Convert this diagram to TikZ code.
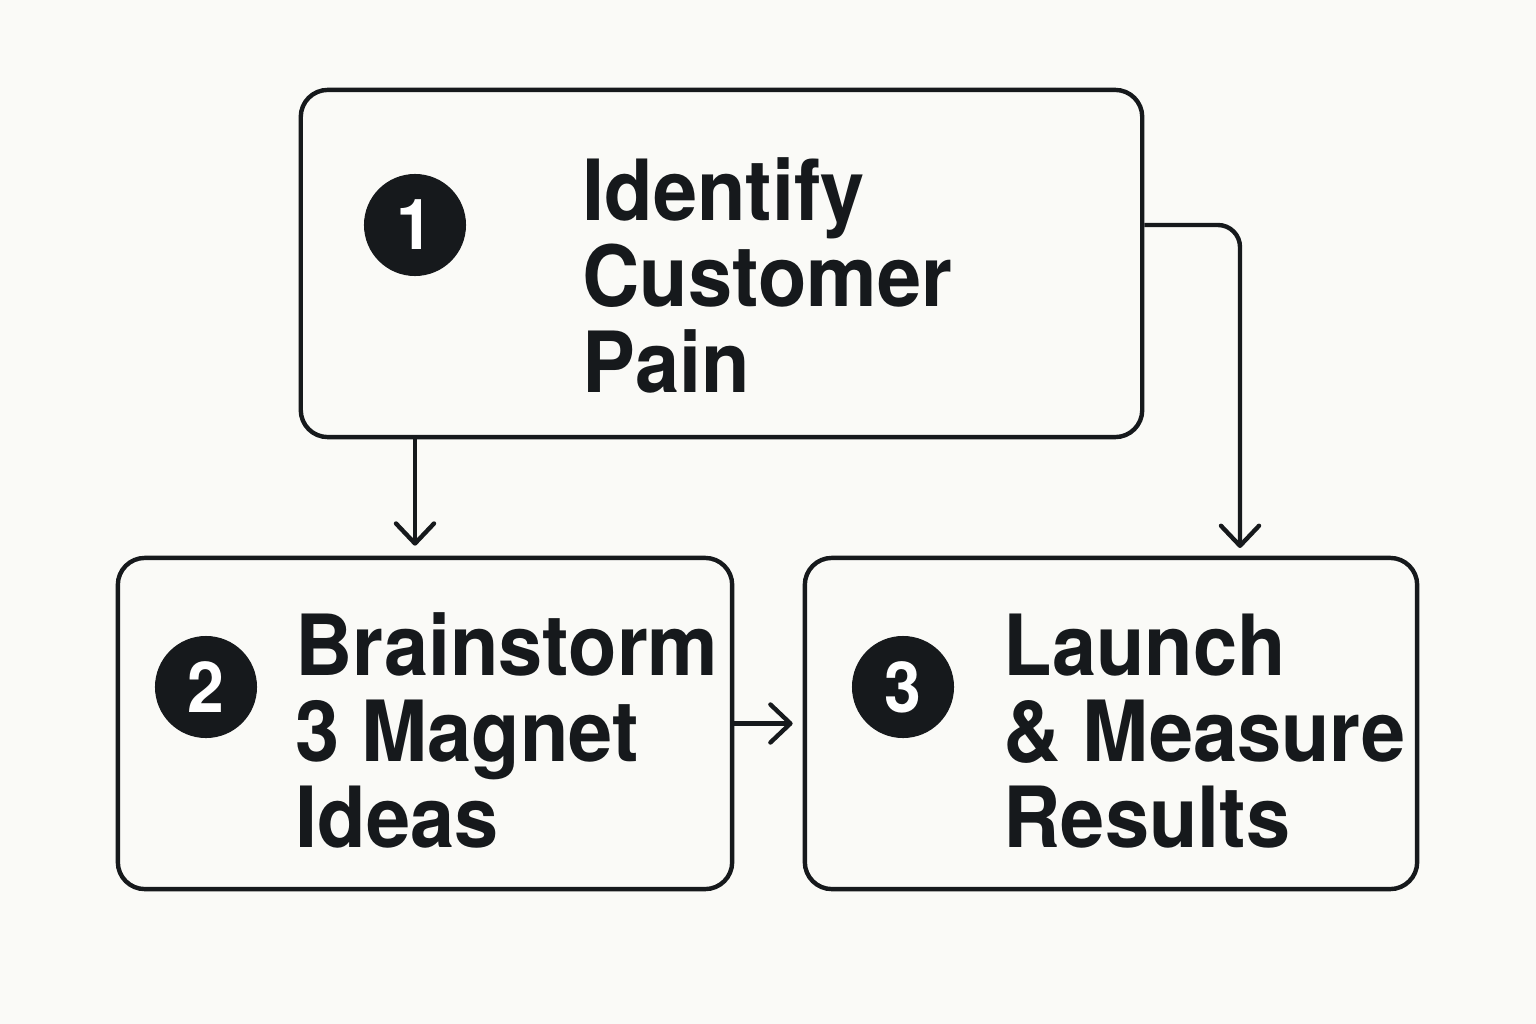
\documentclass[tikz,border=0pt]{standalone}
\usepackage{fontspec}
\setmainfont{TeX Gyre Heros}[FakeStretch=0.94]
\usetikzlibrary{arrows.meta}
\definecolor{ink}{HTML}{16191C}
\definecolor{paper}{HTML}{FAFAF7}
\begin{document}
\begin{tikzpicture}[x=0.01cm, y=-0.01cm,
  stepbox/.style={rectangle, draw=ink, line width=1.25pt, rounded corners=0.27cm, fill=paper},
  num/.style={circle, fill=ink, text=white, minimum size=1.02cm, inner sep=0pt, font=\fontsize{20}{20}\selectfont\bfseries},
  steptext/.style={anchor=base west, align=left, inner sep=0pt, text=ink, font=\fontsize{24}{24.4}\selectfont\bfseries},
  arr/.style={draw=ink, line width=1.25pt, -{Straight Barb[length=0.2cm, width=0.38cm, round]}}]
  \fill[paper] (0,0) rectangle (1536,1024);
  \useasboundingbox (0,0) rectangle (1536,1024);

  \node (identify) [stepbox, minimum width=8.41cm, minimum height=3.47cm] at (721.5,263.5) {};
  \node (brainstorm) [stepbox, minimum width=6.14cm, minimum height=3.31cm] at (425,723.5) {};
  \node (launch) [stepbox, minimum width=6.12cm, minimum height=3.31cm] at (1111,723.5) {};

  \node (num1) [num] at (415,225) {1};
  \node (num2) [num] at (206,687) {2};
  \node (num3) [num] at (903,687) {3};

  % base anchor sits on the last line
  \node (text1) [steptext] at (582,392) {Identify\\Customer\\Pain};
  \node (text2) [steptext] at (295,847) {Brainstorm\\3 Magnet\\Ideas};
  \node (text3) [steptext] at (1003,847) {Launch\\\& Measure\\Results};

  \coordinate (drop) at (1240,558);

  \draw[arr, shorten >=0.1cm] (identify.south -| num1) -- (brainstorm.north -| num1);
  \draw[arr, shorten >=0.1cm, rounded corners=0.22cm] (identify.east |- num1) -| (drop);
  \draw[arr, shorten >=0.1cm] (brainstorm.east) -- (launch.west);
\end{tikzpicture}
\end{document}
